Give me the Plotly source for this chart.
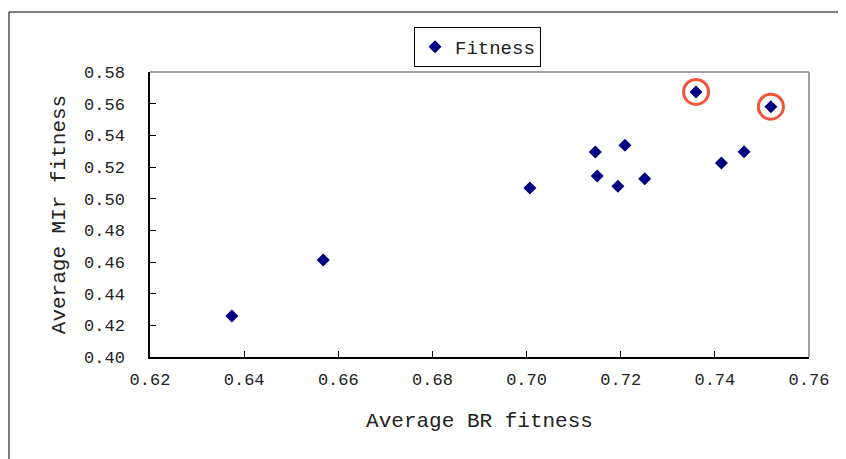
import plotly.graph_objects as go

# data
br_fitness = [0.6374, 0.6568, 0.7007, 0.7146, 0.7150, 0.7209, 0.7194, 0.7251,
              0.7360, 0.7519, 0.7414, 0.7462]
mir_fitness = [0.4259, 0.4613, 0.5068, 0.5295, 0.5143, 0.5337, 0.5078, 0.5126,
               0.5674, 0.5581, 0.5226, 0.5297]
highlight_idx = [8, 9]  # circled in red

x_ticks = [0.62, 0.64, 0.66, 0.68, 0.70, 0.72, 0.74, 0.76]
y_ticks = [0.40, 0.42, 0.44, 0.46, 0.48, 0.50, 0.52, 0.54, 0.56, 0.58]

FONT = "Liberation Mono"

fig = go.Figure()
fig.add_trace(go.Scatter(x=br_fitness, y=mir_fitness,
                         mode="markers",
                         name="Fitness",
                         marker=dict(symbol="diamond", size=10, color="#000080")))
fig.add_trace(go.Scatter(x=[br_fitness[i] for i in highlight_idx],
                         y=[mir_fitness[i] for i in highlight_idx],
                         mode="markers",
                         showlegend=False,
                         hoverinfo="skip",
                         marker=dict(symbol="circle-open", size=25,
                                     line=dict(color="#ff0000", width=3))))

axis_common = dict(showgrid=False, zeroline=False, showline=True,
                   linecolor="#000000", linewidth=1.5,
                   ticks="inside", ticklen=6, tickcolor="#000000",
                   tickformat=".2f",
                   tickfont=dict(family=FONT, size=17, color="#222222"))

fig.update_xaxes(range=[0.62, 0.76], tickvals=x_ticks,
                 title=dict(text="Average BR fitness", standoff=23,
                            font=dict(family=FONT, size=21, color="#222222")),
                 ticklabelstandoff=6, **axis_common)
fig.update_yaxes(range=[0.40, 0.58], tickvals=y_ticks,
                 title=dict(text="Average MIr fitness", standoff=13,
                            font=dict(family=FONT, size=21, color="#222222")),
                 ticklabelstandoff=20, **axis_common)

# gray top/right frame of plot area
fig.add_shape(type="line", xref="paper", yref="paper", x0=0, x1=1, y0=1, y1=1,
              line=dict(color="#808080", width=1.5))
fig.add_shape(type="line", xref="paper", yref="paper", x0=1, x1=1, y0=0, y1=1,
              line=dict(color="#808080", width=1.5))
# outer chart border (runs off the right/bottom of the picture)
fig.add_shape(type="rect", xref="paper", yref="paper",
              x0=-0.2140, x1=1.08, y0=-0.40, y1=1.2105,
              line=dict(color="#000000", width=1))

# the page body adds an 8px offset, so the figure is 8px smaller
fig.update_layout(width=838, height=451,
                  margin=dict(l=142, r=37, t=64, b=102),
                  paper_bgcolor="white", plot_bgcolor="white",
                  showlegend=True,
                  legend=dict(x=0.4006, y=1.158, xanchor="left", yanchor="top",
                              bordercolor="#000000", borderwidth=1,
                              bgcolor="white", itemwidth=30,
                              tracegroupgap=0,
                              font=dict(family=FONT, size=19, color="#222222")))

fig.write_html("out.html")
